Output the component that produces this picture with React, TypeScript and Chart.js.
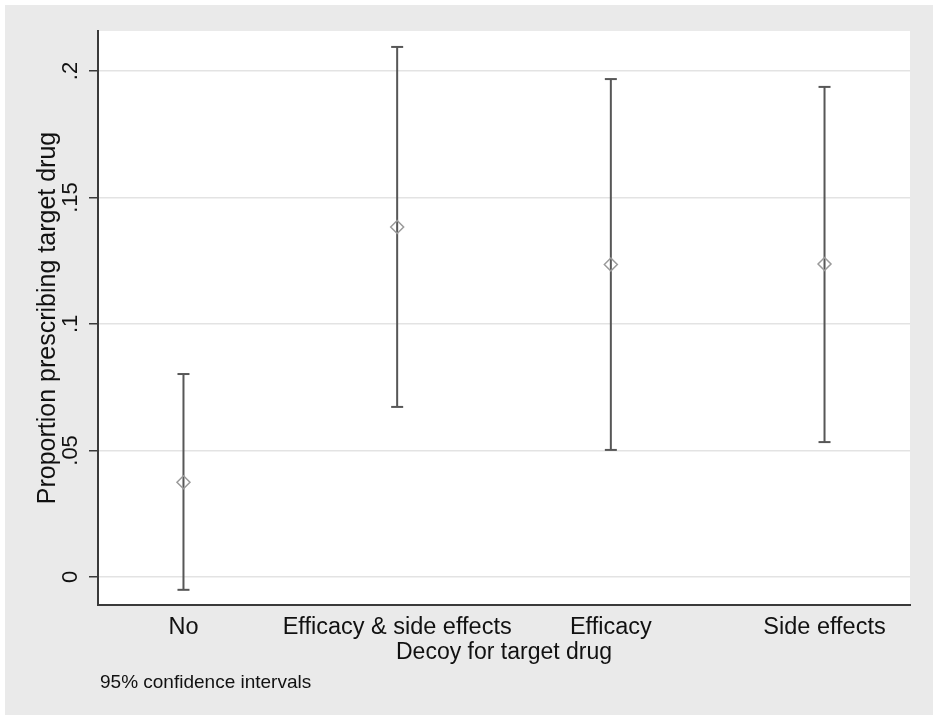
import React, { useEffect, useRef } from 'react';
import { Chart, registerables } from 'chart.js';

Chart.register(...registerables);

// ---- data ----
const categories = ['No', 'Efficacy & side effects', 'Efficacy', 'Side effects'];
const means = [0.0374, 0.1383, 0.1235, 0.1237];
const lower = [-0.0051, 0.0672, 0.0502, 0.0533];
const upper = [0.0802, 0.2095, 0.1968, 0.1937];
const yTicks = [0, 0.05, 0.1, 0.15, 0.2];
const yTickLabels = ['0', '.05', '.1', '.15', '.2'];
const yMin = -0.0111;
const yMax = 0.2158;
const xMin = 0.6;
const xMax = 4.4;
const xTitle = 'Decoy for target drug';
const yTitle = 'Proportion prescribing target drug';
const note = '95% confidence intervals';

const FAMILY = "'Liberation Sans', Arial, Helvetica, sans-serif";
const TEXT = '#111111';
const AXIS = '#3a3a3a';
const BAR = '#575757';
const MARK = '#9a9a9a';

const bgPlugin = {
  id: 'stataBg',
  beforeDraw(chart: any) {
    const { ctx, chartArea } = chart;
    const W = ctx.canvas.width;
    const H = ctx.canvas.height;
    ctx.save();
    ctx.fillStyle = '#ffffff';
    ctx.fillRect(0, 0, W, H);
    ctx.fillStyle = '#eaeaea';
    ctx.fillRect(5, 5, W, H);
    ctx.fillStyle = '#ffffff';
    ctx.fillRect(chartArea.left, chartArea.top, chartArea.right - chartArea.left, chartArea.bottom - chartArea.top);
    ctx.restore();
  },
  afterDraw(chart: any) {
    const { ctx, chartArea } = chart;
    ctx.save();
    ctx.font = `19px ${FAMILY}`;
    ctx.fillStyle = TEXT;
    ctx.textAlign = 'left';
    ctx.textBaseline = 'alphabetic';
    ctx.fillText(note, chartArea.left + 2, 688);
    ctx.restore();
  },
};

export default function App() {
  const ref = useRef<HTMLCanvasElement>(null);

  useEffect(() => {
    const errData: { x: number; y: number | null }[] = [];
    categories.forEach((_, i) => {
      errData.push({ x: i + 1, y: lower[i] });
      errData.push({ x: i + 1, y: upper[i] });
      errData.push({ x: i + 1, y: null });
    });
    const meanData = categories.map((_, i) => ({ x: i + 1, y: means[i] }));

    const chart = new Chart(ref.current as HTMLCanvasElement, {
      type: 'scatter',
      data: {
        datasets: [
          {
            label: 'mean',
            data: meanData,
            order: 0,
            showLine: false,
            pointStyle: 'rectRot',
            pointRadius: 6.5,
            pointHoverRadius: 6.5,
            pointBorderWidth: 1.5,
            pointBorderColor: MARK,
            pointBackgroundColor: 'rgba(0,0,0,0)',
          } as any,
          {
            label: 'ci',
            data: errData,
            order: 1,
            showLine: true,
            spanGaps: false,
            borderColor: BAR,
            borderWidth: 2,
            pointStyle: 'line',
            pointRotation: 0,
            pointRadius: 6,
            pointHoverRadius: 6,
            pointBorderWidth: 2,
            pointBorderColor: BAR,
            pointBackgroundColor: BAR,
          } as any,
        ],
      },
      options: {
        responsive: false,
        animation: false,
        events: [],
        layout: { padding: { top: 31, right: 23, left: 0, bottom: 0 } },
        plugins: {
          legend: { display: false },
          tooltip: { enabled: false },
          title: { display: false },
        },
        scales: {
          x: {
            type: 'linear',
            position: 'bottom',
            min: xMin,
            max: xMax,
            afterBuildTicks: (s: any) => {
              s.ticks = categories.map((_, i) => ({ value: i + 1 }));
            },
            afterFit: (s: any) => {
              s.height = 110;
            },
            grid: { display: false },
            border: { display: true, color: AXIS, width: 2 },
            ticks: {
              autoSkip: false,
              minRotation: 0,
              maxRotation: 0,
              padding: 0,
              color: TEXT,
              font: { family: FAMILY, size: 23.5 },
              callback: (v: any) => categories[Math.round(Number(v)) - 1] ?? '',
            },
            title: {
              display: true,
              text: xTitle,
              color: TEXT,
              font: { family: FAMILY, size: 23 },
              padding: { top: 0, bottom: 49 },
            },
          },
          y: {
            type: 'linear',
            min: yMin,
            max: yMax,
            afterBuildTicks: (s: any) => {
              s.ticks = yTicks.map((v) => ({ value: v }));
            },
            afterFit: (s: any) => {
              s.width = 98;
            },
            grid: {
              color: '#e3e3e3',
              lineWidth: 1.5,
              drawTicks: true,
              tickLength: 9,
              tickColor: AXIS,
              tickWidth: 1.5,
            },
            border: { display: true, color: AXIS, width: 2 },
            ticks: {
              autoSkip: false,
              minRotation: 90,
              maxRotation: 90,
              crossAlign: 'center',
              padding: 3,
              color: TEXT,
              font: { family: FAMILY, size: 22 },
              callback: (v: any) => {
                const idx = yTicks.findIndex((t) => Math.abs(t - Number(v)) < 1e-9);
                return idx >= 0 ? yTickLabels[idx] : '';
              },
            },
            title: {
              display: true,
              text: yTitle,
              color: TEXT,
              font: { family: FAMILY, size: 25 },
              padding: { top: 33, bottom: 0 },
            },
          },
        },
      } as any,
      plugins: [bgPlugin],
    });
    return () => chart.destroy();
  }, []);

  return (
    <div style={{ position: 'absolute', left: 0, top: 0, width: 933, height: 715 }}>
      <canvas ref={ref} width={933} height={715} style={{ display: 'block' }} />
    </div>
  );
}
